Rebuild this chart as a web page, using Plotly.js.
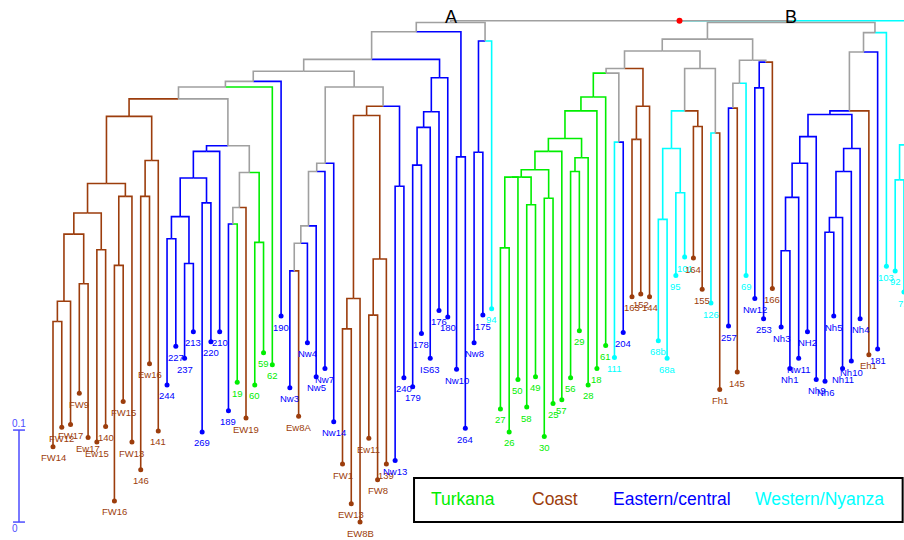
<!DOCTYPE html>
<html><head><meta charset="utf-8">
<script src="https://cdn.plot.ly/plotly-3.0.1.min.js"></script>
<style>html,body{margin:0;padding:0;background:#fff}#chart{width:904px;height:540px}</style>
</head><body><div id="chart"></div>
<script>
// ---- data ----
const groupKeys = ["T", "C", "E", "W"];
const groupNames = ["Turkana", "Coast", "Eastern/central", "Western/Nyanza"];
const groupColors = ["#00ee00", "#9c3d0c", "#0000ff", "#00ffff"];
const mixedColor = "#a0a0a0";

const leafLabels = ["FW14","FW12","FW17","FW9","Ew17","Ew15","140","FW16","FW15","FW13","146","Ew16","141",
"244","227","237","213","269","220","210","189","19","EW19","60","59","62","190","Nw3","Ew8A","Nw4",
"Nw5","Nw7","Nw14","FW1","EW13","EW8B","Ew11","FW8","139","Nw13","240","179","178","IS63","176","180","Nw10","264",
"Nw8","175","94","27","26","50","58","49","30","25","57","56","29","28","18","61","111","204",
"163","152","144","68b","68a","95","101","164","155","126","Fh1","257","145","69","Nw12","253","166",
"Nh3","Nh1","Nw11","NH2","Nh9","Nh6","Nh5","Nh11","Nh10","Nh4","Eh1","181","103","92","72","73","77"];

const leafGroups = ["C","C","C","C","C","C","C","C","C","C","C","C","C",
"E","E","E","E","E","E","E","E","T","C","T","T","T","E","E","C","E",
"E","E","E","C","C","C","C","C","C","E","E","E","E","E","E","E","E","E",
"E","E","W","T","T","T","T","T","T","T","T","T","T","T","T","T","W","E",
"C","C","C","W","W","W","W","C","C","W","C","E","C","W","E","E","C",
"E","E","E","E","E","E","E","E","E","E","C","E","W","W","W","W","W"];

// distance from the root (scale: 0.1)
const leafDepths = [0.463,0.442,0.439,0.405,0.453,0.458,0.441,0.522,0.414,0.458,0.488,0.373,0.446,
0.396,0.354,0.367,0.338,0.447,0.349,0.338,0.424,0.393,0.432,0.396,0.361,0.374,0.321,0.399,0.430,0.350,
0.387,0.378,0.436,0.482,0.525,0.545,0.454,0.499,0.482,0.478,0.388,0.398,0.340,0.367,0.315,0.322,0.379,0.443,
0.350,0.320,0.313,0.422,0.447,0.390,0.420,0.387,0.452,0.416,0.412,0.388,0.337,0.396,0.378,0.353,0.366,0.339,
0.300,0.297,0.300,0.348,0.367,0.277,0.257,0.258,0.292,0.307,0.401,0.332,0.382,0.277,0.302,0.324,0.291,
0.333,0.378,0.367,0.338,0.390,0.392,0.321,0.378,0.370,0.324,0.363,0.357,0.267,0.272,0.295,0.300,0.310];

const nodeNames = ["n1","n2","n3","n4","n5","n6","n7","n8","n9","n10","n11","n12",
"n13","n14","n15","n16","n17","n18","n19","n20","n21","n22","n23","n24","n25","n26",
"n27","n28","n29","n30","n31","n32","n33","n34","n35","n36","n37","n38","n39","n40",
"n41","n42","n43","n44","n45","n46","n47","n48","n49","nA",
"n50","n51","n52","n53","n54","n55","n56","n57","n58","n59","n60","n61","n62","n63",
"n64","n65","n66","n67","n68","n69","n70","n71","n72","n73","n74","n75","n76","n77","n78","n79","n80",
"n81","n82","n83","n84","n85","n86","n87","n88","n89","n90","n91","n92","nB","n93","n94","n95","root"];

const nodeChildren = [
["FW14","FW12"],["n1","FW17"],["FW9","Ew17"],["n2","n3"],["Ew15","140"],["n4","n5"],
["FW16","FW15"],["n7","FW13"],["n6","n8"],["146","Ew16"],["n10","141"],["n9","n11"],
["244","227"],["237","213"],["n13","n14"],["269","220"],["n15","n16"],["n17","210"],
["189","19"],["n19","EW19"],["60","59"],["n20","n21"],["n18","n22"],["n12","n23"],["n24","62"],["n25","190"],
["Nw3","Ew8A"],["n27","Nw4"],["n28","Nw5"],["n29","Nw7"],["n30","Nw14"],
["FW1","EW13"],["n32","EW8B"],["Ew11","FW8"],["n34","139"],["n33","n35"],["Nw13","240"],["n36","n37"],
["n31","n38"],["n26","n39"],
["179","178"],["n41","IS63"],["n42","176"],["n43","180"],["n40","n44"],["Nw10","264"],["n45","n46"],
["Nw8","175"],["n48","94"],["n47","n49"],
["27","26"],["n50","50"],["58","49"],["n51","n52"],["30","25"],["n53","n54"],["n55","57"],
["56","29"],["n57","28"],["n56","n58"],["n59","18"],["n60","61"],["111","204"],["n61","n62"],
["163","152"],["n64","144"],["n63","n65"],["68b","68a"],["95","101"],["n67","n68"],["164","155"],
["n69","n70"],["126","Fh1"],["n71","n72"],["n66","n73"],["257","145"],["n75","69"],["Nw12","253"],
["n77","166"],["n76","n78"],["n74","n79"],
["Nh3","Nh1"],["n81","Nw11"],["n82","NH2"],["n83","Nh9"],["Nh6","Nh5"],["n85","Nh11"],["n86","Nh10"],
["n87","Nh4"],["n84","n88"],["n89","Eh1"],["n90","181"],["n91","103"],["n80","n92"],
["92","72"],["73","77"],["n93","n94"],["nA","nB","n95"]];

const nodeDepths = [0.327,0.305,0.286,0.232,0.249,0.209,0.266,0.191,0.177,0.191,0.152,0.104,
0.237,0.264,0.213,0.198,0.171,0.142,0.221,0.203,0.241,0.165,0.136,0.085,0.072,0.066,
0.272,0.242,0.223,0.164,0.155,0.335,0.302,0.320,0.259,0.103,0.180,0.093,0.072,0.055,
0.157,0.116,0.099,0.062,0.042,0.148,0.012,0.143,0.022,0.002,
0.247,0.170,0.200,0.170,0.193,0.162,0.142,0.164,0.149,0.128,0.098,0.083,0.132,0.057,
0.129,0.093,0.052,0.216,0.187,0.139,0.115,0.098,0.122,0.052,0.033,0.095,0.068,0.073,0.045,0.043,0.020,
0.250,0.192,0.155,0.126,0.230,0.214,0.164,0.139,0.102,0.098,0.034,0.013,0.002,
0.173,0.185,0.135,0.000];

const cladeLabels = [["nA","A"],["nB","B"]];
const scaleBarLength = 0.1;

// ---- layout of the tree ----
const nodeIdx = {}; nodeNames.forEach((n,i)=>nodeIdx[n]=i);
const leafIdx = {}; leafLabels.forEach((l,i)=>leafIdx[l]=i);
const info = {};
function resolve(name){
  if (info[name]) return info[name];
  let r;
  if (name in nodeIdx){
    const i = nodeIdx[name];
    const kids = nodeChildren[i].map(resolve);
    const xs = kids.map(k=>k.x);
    const x = (Math.min(...xs)+Math.max(...xs))/2;
    const gs = new Set(kids.map(k=>k.group));
    const group = gs.size===1 ? kids[0].group : null;
    r = {x, d: nodeDepths[i], group, kids};
  } else {
    const i = leafIdx[name];
    r = {x: i, d: leafDepths[i], group: leafGroups[i], leaf: true};
  }
  info[name] = r; return r;
}
const root = resolve("root");
const colorOf = g => g===null ? mixedColor : groupColors[groupKeys.indexOf(g)];

const buckets = {}; [...groupKeys, "mix"].forEach(k=>buckets[k]={x:[],y:[]});
(function walk(n){
  if (n.leaf) return;
  n.kids.forEach(k=>{
    const b = buckets[k.group===null ? "mix" : k.group];
    b.x.push(n.x, k.x, k.x, null);
    b.y.push(n.d, n.d, k.d, null);
    walk(k);
  });
})(root);

const traces = [];
["W","T","C","E","mix"].forEach(k=>{
  traces.push({type:"scatter", mode:"lines", x:buckets[k].x, y:buckets[k].y,
    line:{color: k==="mix"?mixedColor:colorOf(k), width:1.6}, hoverinfo:"skip"});
});
groupKeys.forEach(g=>{
  const idx = leafLabels.map((l,i)=>i).filter(i=>leafGroups[i]===g);
  traces.push({type:"scatter", mode:"markers", x:idx, y:idx.map(i=>leafDepths[i]),
    marker:{color:colorOf(g), size:5}, hoverinfo:"skip"});
});
traces.push({type:"scatter", mode:"markers", x:[root.x], y:[root.d],
  marker:{color:"#ff0000", size:6}, hoverinfo:"skip"});

// scale bar
const sbBase = Math.max(...leafDepths);
const sbTop = sbBase - scaleBarLength;
const sbX = -3.875, sbW = 0.68;
traces.push({type:"scatter", mode:"lines",
  x:[sbX, sbX, null, sbX-sbW, sbX+sbW, null, sbX-sbW, sbX+sbW],
  y:[sbBase, sbTop, null, sbTop, sbTop, null, sbBase, sbBase],
  line:{color:"#4d4dff", width:1.5}, hoverinfo:"skip"});

const annotations = [];
leafLabels.forEach((l,i)=>{
  annotations.push({x:i, y:leafDepths[i], text:l, showarrow:false, xanchor:"center", yanchor:"middle",
    yshift:-11, font:{family:"Liberation Sans, Arial, sans-serif", size:9.5, color:colorOf(leafGroups[i])}});
});
cladeLabels.forEach(([n,t])=>{
  const r = info[n];
  annotations.push({x:r.x, y:r.d, text:t, showarrow:false, xanchor:"center", yanchor:"middle", yshift:6,
    font:{family:"Liberation Sans, Arial, sans-serif", size:18, color:"#000"}});
});
annotations.push({x:sbX, y:sbTop, text:"0.1", showarrow:false, yanchor:"middle", yshift:7,
  font:{family:"Liberation Sans, Arial, sans-serif", size:10, color:"#4d4dff"}});
annotations.push({x:sbX-0.45, y:sbBase, text:"0", showarrow:false, yanchor:"middle", yshift:-6,
  font:{family:"Liberation Sans, Arial, sans-serif", size:10, color:"#4d4dff"}});

const legendX = [0.512, 0.614, 0.743, 0.907];
groupNames.forEach((g,i)=>{
  annotations.push({xref:"paper", yref:"paper", x:legendX[i], y:0.076, text:g, showarrow:false,
    xanchor:"center", yanchor:"middle",
    font:{family:"Liberation Sans, Arial, sans-serif", size:17.5, color:groupColors[i]}});
});

const layout = {
  width:904, height:540, margin:{l:0,r:0,t:0,b:0},
  paper_bgcolor:"#fff", plot_bgcolor:"#fff", showlegend:false,
  xaxis:{range:[-6.041, 97.005], visible:false, fixedrange:true},
  yaxis:{range:[0.5645, -0.0225], visible:false, fixedrange:true},
  annotations,
  shapes:[{type:"rect", xref:"paper", yref:"paper", x0:0.458, x1:0.9985, y0:0.0333, y1:0.1148,
    line:{color:"#000", width:2}}]
};
Plotly.newPlot("chart", traces, layout, {staticPlot:true});
</script>
</body></html>
